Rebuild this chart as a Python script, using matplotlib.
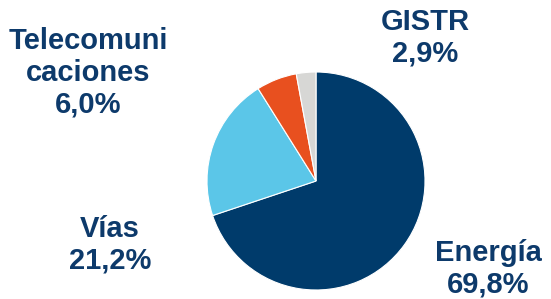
import matplotlib
matplotlib.use("Agg")
import matplotlib.pyplot as plt

labels = ["Energía", "Vías", "Telecomuni\ncaciones", "GISTR"]
shares = [69.8, 21.2, 6.0, 2.9]
colors = ["#003B6B", "#5BC6E8", "#E8501F", "#D7D7D5"]

W, H = 551, 299
fig = plt.figure(figsize=(W / 100, H / 100), dpi=100)

# pie axes, in pixel terms: centre (316, 181), radius 109
cx, cy, r = 316, 181, 109
ax = fig.add_axes([(cx - r) / W, 1 - (cy + r) / H, 2 * r / W, 2 * r / H])
ax.pie(shares, colors=colors, startangle=90, counterclock=False,
       wedgeprops=dict(edgecolor="white", linewidth=0.8))
ax.set_xlim(-1, 1)
ax.set_ylim(-1, 1)
ax.set_aspect("equal")
ax.axis("off")

text_color = "#0D3A6B"
label_pos = [(488, 269), (110, 245), (88, 73), (425, 38)]
for lab, val, (x, y) in zip(labels, shares, label_pos):
    txt = f"{lab}\n{val:.1f}%".replace(".", ",")
    fig.text(x / W, 1 - y / H, txt, ha="center", va="center",
             fontsize=21, fontweight="bold", color=text_color,
             family="Liberation Sans", linespacing=1.16)

fig.savefig("out.png", dpi=100)
